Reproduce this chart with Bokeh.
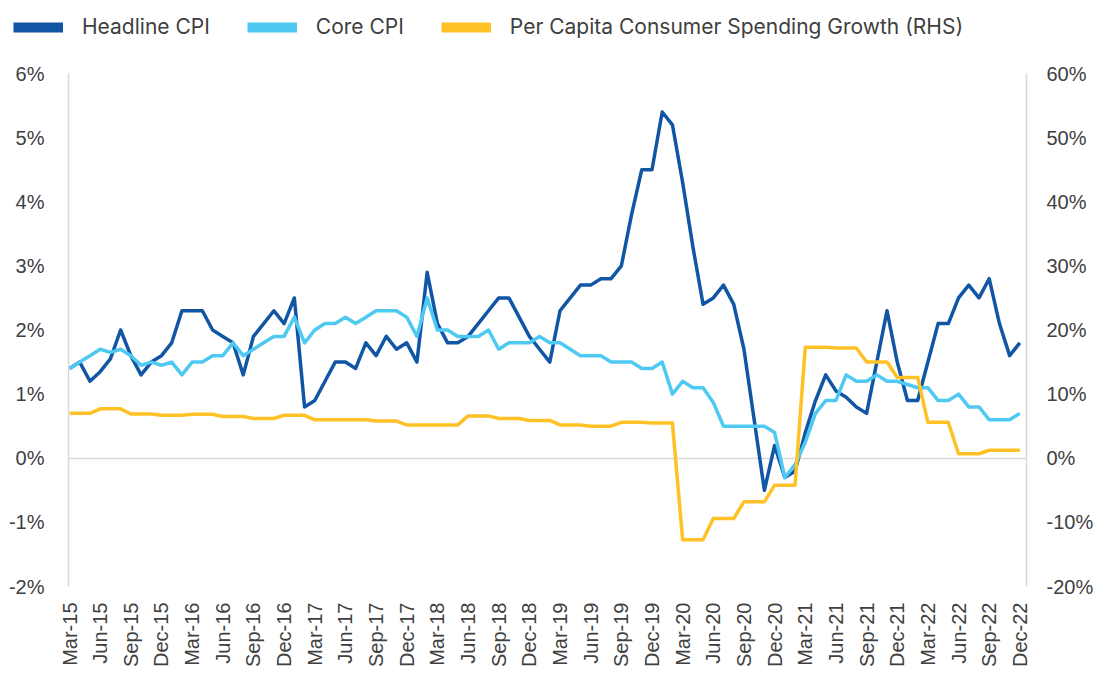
import math
from bokeh.plotting import figure
from bokeh.layouts import column
from bokeh.models import (Range1d, LinearAxis, FixedTicker, PrintfTickFormatter,
                          Legend, LegendItem, ColumnDataSource)
from bokeh.embed import file_html
from bokeh.resources import INLINE

# ---------------- data ----------------
tick_labels = ["Mar-15", "Jun-15", "Sep-15", "Dec-15", "Mar-16", "Jun-16", "Sep-16", "Dec-16",
               "Mar-17", "Jun-17", "Sep-17", "Dec-17", "Mar-18", "Jun-18", "Sep-18", "Dec-18",
               "Mar-19", "Jun-19", "Sep-19", "Dec-19", "Mar-20", "Jun-20", "Sep-20", "Dec-20",
               "Mar-21", "Jun-21", "Sep-21", "Dec-21", "Mar-22", "Jun-22", "Sep-22", "Dec-22"]

headline_cpi = [1.4, 1.5, 1.2, 1.35, 1.55, 2.0, 1.6, 1.3, 1.5, 1.6, 1.8, 2.3,
                2.3, 2.3, 2.0, 1.9, 1.8, 1.3, 1.9, 2.1, 2.3, 2.1, 2.5, 0.8,
                0.9, 1.2, 1.5, 1.5, 1.4, 1.8, 1.6, 1.9, 1.7, 1.8, 1.5, 2.9,
                2.1, 1.8, 1.8, 1.9, 2.1, 2.3, 2.5, 2.5, 2.2, 1.9, 1.7, 1.5,
                2.3, 2.5, 2.7, 2.7, 2.8, 2.8, 3.0, 3.8, 4.5, 4.5, 5.4, 5.2,
                4.3, 3.3, 2.4, 2.5, 2.7, 2.4, 1.7, 0.6, -0.5, 0.2, -0.3, -0.2,
                0.4, 0.9, 1.3, 1.05, 0.95, 0.8, 0.7, 1.5, 2.3, 1.5, 0.9, 0.9,
                1.5, 2.1, 2.1, 2.5, 2.7, 2.5, 2.8, 2.1, 1.6, 1.8]

core_cpi = [1.4, 1.5, 1.6, 1.7, 1.65, 1.7, 1.6, 1.45, 1.5, 1.45, 1.5, 1.3,
            1.5, 1.5, 1.6, 1.6, 1.8, 1.6, 1.7, 1.8, 1.9, 1.9, 2.2, 1.8,
            2.0, 2.1, 2.1, 2.2, 2.1, 2.2, 2.3, 2.3, 2.3, 2.2, 1.9, 2.5,
            2.0, 2.0, 1.9, 1.9, 1.9, 2.0, 1.7, 1.8, 1.8, 1.8, 1.9, 1.8,
            1.8, 1.7, 1.6, 1.6, 1.6, 1.5, 1.5, 1.5, 1.4, 1.4, 1.5, 1.0,
            1.2, 1.1, 1.1, 0.87, 0.5, 0.5, 0.5, 0.5, 0.5, 0.4, -0.3, -0.1,
            0.25, 0.7, 0.9, 0.9, 1.3, 1.2, 1.2, 1.3, 1.2, 1.2, 1.15, 1.1,
            1.1, 0.9, 0.9, 1.0, 0.8, 0.8, 0.6, 0.6, 0.6, 0.7]

spending_growth = [7.0, 7.0, 7.0, 7.7, 7.7, 7.7, 6.9, 6.9, 6.9, 6.7, 6.7, 6.7,
                   6.85, 6.85, 6.85, 6.5, 6.5, 6.5, 6.2, 6.2, 6.2, 6.7, 6.7, 6.7,
                   6.0, 6.0, 6.0, 6.0, 6.0, 6.0, 5.8, 5.8, 5.8, 5.2, 5.2, 5.2,
                   5.2, 5.2, 5.2, 6.6, 6.6, 6.6, 6.2, 6.2, 6.2, 5.9, 5.9, 5.9,
                   5.2, 5.2, 5.2, 5.0, 5.0, 5.0, 5.6, 5.6, 5.6, 5.5, 5.5, 5.5,
                   -12.7, -12.7, -12.7, -9.4, -9.4, -9.4, -6.8, -6.8, -6.8, -4.2, -4.2, -4.2,
                   17.3, 17.3, 17.3, 17.2, 17.2, 17.2, 15.0, 15.0, 15.0, 12.6, 12.6, 12.6,
                   5.6, 5.6, 5.6, 0.7, 0.7, 0.7, 1.25, 1.25, 1.25, 1.25]

series_names = ["Headline CPI", "Core CPI", "Per Capita Consumer Spending Growth (RHS)"]
left_ticks = [-2, -1, 0, 1, 2, 3, 4, 5, 6]
right_ticks = [-20, -10, 0, 10, 20, 30, 40, 50, 60]

# ---------------- styles ----------------
C_HEAD = "#1155A5"
C_CORE = "#4EC9F2"
C_SPEND = "#FFC226"
TXT = "#404040"
GRID = "#D9D9D9"
AX_FONT = "Liberation Sans"
AX_SIZE = "20px"
W = 1096
LEG_H = 48

months = list(range(len(headline_cpi)))
src = ColumnDataSource(dict(x=months, head=headline_cpi, core=core_cpi, spend=spending_growth))

# ---------------- legend strip (series drawn off-view, only legend shows) ----------------
lf = figure(width=W, height=LEG_H, output_backend="svg", toolbar_location=None,
            x_axis_location=None, y_axis_location=None,
            x_range=Range1d(1000, 1001), y_range=Range1d(1000, 1001),
            min_border=0, min_border_left=0, min_border_right=0,
            min_border_top=0, min_border_bottom=0)
lf.frame_align = False
lf.grid.visible = False
lf.outline_line_color = None
lf.border_fill_color = "white"
d1 = lf.line("x", "head", source=src, color=C_HEAD, line_width=10)
d2 = lf.line("x", "core", source=src, color=C_CORE, line_width=10)
d3 = lf.line("x", "spend", source=src, color=C_SPEND, line_width=10)
legend = Legend(items=[LegendItem(label=series_names[0], renderers=[d1]),
                       LegendItem(label=series_names[1], renderers=[d2]),
                       LegendItem(label=series_names[2], renderers=[d3])],
                orientation="horizontal", location=(13, 9),
                glyph_width=50, glyph_height=20, label_standoff=19, spacing=37,
                padding=0, margin=0, border_line_color=None, background_fill_alpha=0,
                label_text_font="Inter", label_text_font_size="21px", label_text_color=TXT,
                label_height=20)
lf.add_layout(legend)

# ---------------- main chart ----------------
p = figure(width=W, height=677 - LEG_H, output_backend="svg", toolbar_location=None,
           x_range=Range1d(-0.1, 93.65), y_range=Range1d(-2, 6),
           min_border_left=68, min_border_right=69, min_border_top=73 - LEG_H,
           min_border_bottom=91)
p.frame_align = False
p.outline_line_color = None
p.background_fill_color = "white"
p.border_fill_color = "white"
p.extra_y_ranges = {"rhs": Range1d(-20, 60)}

# x axis
xa = p.xaxis[0]
xa.ticker = FixedTicker(ticks=list(range(0, len(months), 3)))
xa.major_label_overrides = {i * 3: lab for i, lab in enumerate(tick_labels)}
xa.major_label_orientation = math.pi / 2
xa.axis_line_color = None
xa.major_tick_line_color = None
xa.minor_tick_line_color = None
xa.major_label_standoff = 10
xa.major_label_text_font = AX_FONT
xa.major_label_text_font_size = AX_SIZE
xa.major_label_text_color = TXT

# left axis
ya = p.yaxis[0]
ya.ticker = FixedTicker(ticks=left_ticks)
ya.formatter = PrintfTickFormatter(format="%d%%")
ya.axis_line_color = GRID
ya.axis_line_width = 1.5
ya.major_tick_line_color = None
ya.minor_tick_line_color = None
ya.major_label_standoff = 18
ya.major_label_text_font = AX_FONT
ya.major_label_text_font_size = AX_SIZE
ya.major_label_text_color = TXT

# right axis
ra = LinearAxis(y_range_name="rhs", ticker=FixedTicker(ticks=right_ticks),
                formatter=PrintfTickFormatter(format="%d%%"))
ra.axis_line_color = GRID
ra.axis_line_width = 1.5
ra.major_tick_line_color = None
ra.minor_tick_line_color = None
ra.major_label_standoff = 14
ra.major_label_text_font = AX_FONT
ra.major_label_text_font_size = AX_SIZE
ra.major_label_text_color = TXT
p.add_layout(ra, "right")

# grid: only zero line
p.xgrid.visible = False
p.ygrid.ticker = FixedTicker(ticks=[0])
p.ygrid.grid_line_color = GRID
p.ygrid.grid_line_width = 1.5

# series
p.line("x", "head", source=src, color=C_HEAD, line_width=3.5, line_join="round")
p.line("x", "core", source=src, color=C_CORE, line_width=3.5, line_join="round")
p.line("x", "spend", source=src, color=C_SPEND, line_width=3.5, line_join="round",
       y_range_name="rhs")

layout = column(lf, p, spacing=0)
open("out.html", "w").write(file_html(layout, INLINE))
